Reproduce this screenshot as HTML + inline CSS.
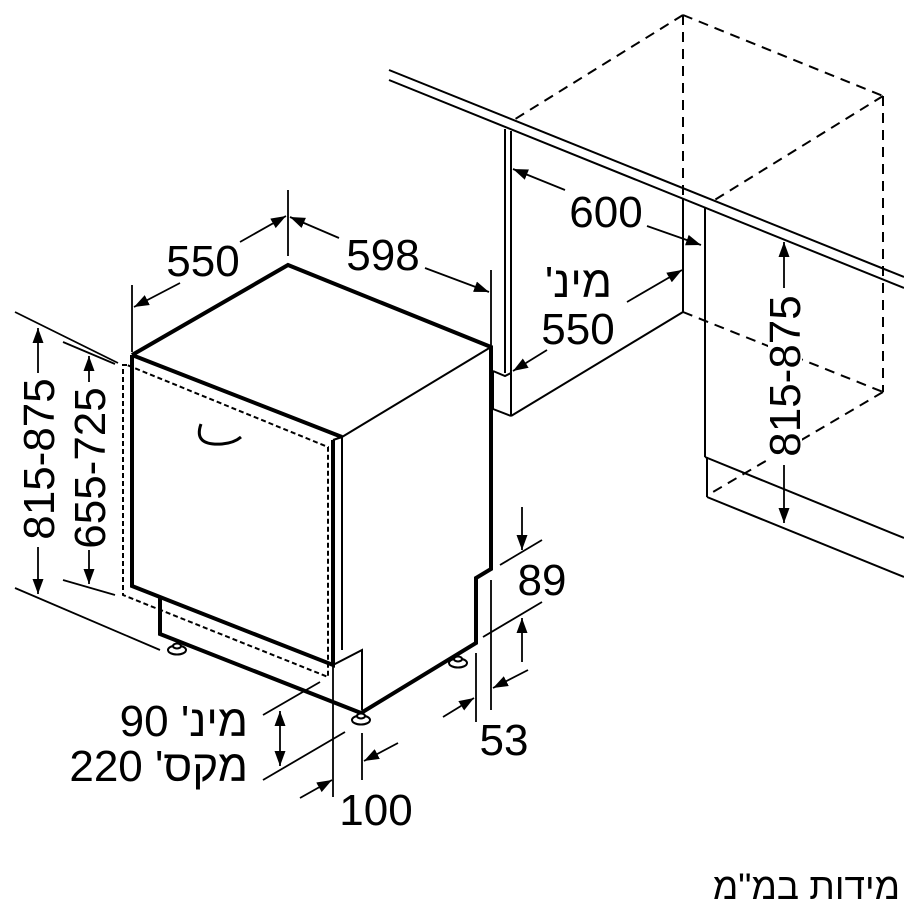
<!DOCTYPE html>
<html><head><meta charset="utf-8"><style>
html,body{margin:0;padding:0;background:#fff;}
body{width:904px;height:906px;position:relative;overflow:hidden;}
.t{position:absolute;font-family:"Liberation Sans","Noto Sans CJK JP",sans-serif;font-size:44px;line-height:44px;color:#000;white-space:nowrap;}
svg text{font-family:"Liberation Sans",sans-serif;font-size:44px;fill:#000;}
</style></head><body>
<svg width="904" height="906" viewBox="0 0 904 906" style="position:absolute;left:0;top:0">
<defs>
<marker id="a" viewBox="0 0 15 12" refX="15" refY="6" markerWidth="15" markerHeight="12" markerUnits="userSpaceOnUse" orient="auto-start-reverse"><path d="M0,0.5 L15,6 L0,11.5 z" fill="#000"/></marker>
</defs>
<g fill="none" stroke="#000" stroke-width="2">
<line x1="389" y1="70" x2="904" y2="277"/>
<line x1="389" y1="80" x2="904" y2="288"/>
<line x1="505" y1="129" x2="505" y2="373"/>
<line x1="511" y1="131" x2="511" y2="416"/>
<polyline points="493,371 505,376 511,373"/>
<line x1="493" y1="371" x2="493" y2="409"/>
<line x1="493" y1="409" x2="511" y2="416"/>
<line x1="511" y1="416" x2="683" y2="312"/>
<line x1="683" y1="199" x2="683" y2="312"/>
<line x1="705" y1="208" x2="705" y2="457"/>
<line x1="705" y1="457" x2="904" y2="538"/>
<line x1="707" y1="457" x2="707" y2="497"/>
<line x1="707" y1="497" x2="904" y2="577"/>
</g>
<g fill="none" stroke="#000" stroke-width="2" stroke-dasharray="10,7">
<line x1="683" y1="15" x2="683" y2="199"/>
<line x1="683" y1="15" x2="883" y2="96"/>
<line x1="683" y1="15" x2="512" y2="121"/>
<line x1="883" y1="96" x2="713" y2="201"/>
<line x1="883" y1="96" x2="883" y2="392"/>
<line x1="683" y1="312" x2="883" y2="392"/>
<line x1="883" y1="392" x2="713" y2="492"/>
</g>
<rect x="768" y="296" width="34" height="164" fill="#fff"/>
<g fill="none" stroke="#000" stroke-width="4" stroke-linejoin="miter">
<polyline points="132,355 288,265 491,347 491,569 476,578 476,643 361,713 160,634 160,597"/>
<polyline points="132,355 342,437"/>
<polyline points="132,355 132,586 333,665 333,440"/>
</g>
<g fill="none" stroke="#000" stroke-width="2">
<line x1="342" y1="437" x2="491" y2="347"/>
<line x1="342" y1="437" x2="342" y2="650"/>
<line x1="333" y1="440" x2="342" y2="437"/>
<polyline points="333,665 362,650 362,710"/>
<path d="M201,424 Q193,446 222,444 Q234,443 241,437" stroke-width="3"/>
</g>
<g fill="none" stroke="#000" stroke-width="2" stroke-dasharray="5,3">
<polyline points="127,365 123,365 123,595 328,677 328,447 127,365"/>
</g>
<g fill="#fff" stroke="#000" stroke-width="2">
<ellipse cx="177" cy="650" rx="9" ry="4.5"/><ellipse cx="177" cy="646" rx="4" ry="2.5"/>
<ellipse cx="361" cy="720" rx="9" ry="4.5"/><ellipse cx="361" cy="716" rx="4" ry="2.5"/>
<ellipse cx="458" cy="663" rx="9" ry="4.5"/><ellipse cx="458" cy="659" rx="4" ry="2.5"/>
</g>
<g fill="none" stroke="#000" stroke-width="1.8">
<line x1="288" y1="190" x2="288" y2="256"/>
<line x1="132" y1="285" x2="132" y2="352"/>
<line x1="491" y1="270" x2="491" y2="345"/>
<line x1="240" y1="242" x2="286" y2="216" marker-end="url(#a)"/>
<line x1="180" y1="283" x2="134" y2="307" marker-end="url(#a)"/>
<line x1="339" y1="238" x2="290" y2="217" marker-end="url(#a)"/>
<line x1="425" y1="268" x2="489" y2="292" marker-end="url(#a)"/>
<line x1="15" y1="312" x2="118" y2="363"/>
<line x1="63" y1="342" x2="115" y2="364"/>
<line x1="63" y1="580" x2="115" y2="595"/>
<line x1="15" y1="588" x2="160" y2="650"/>
<line x1="38" y1="373" x2="38" y2="328" marker-end="url(#a)"/>
<line x1="38" y1="547" x2="38" y2="594" marker-end="url(#a)"/>
<line x1="89" y1="382" x2="89" y2="356" marker-end="url(#a)"/>
<line x1="89" y1="550" x2="89" y2="584" marker-end="url(#a)"/>
<line x1="565" y1="190" x2="513" y2="169" marker-end="url(#a)"/>
<line x1="647" y1="226" x2="701" y2="245" marker-end="url(#a)"/>
<line x1="627" y1="302" x2="682" y2="270" marker-end="url(#a)"/>
<line x1="547" y1="350" x2="513" y2="371" marker-end="url(#a)"/>
<line x1="784" y1="288" x2="784" y2="242" marker-end="url(#a)"/>
<line x1="784" y1="465" x2="784" y2="523" marker-end="url(#a)"/>
<line x1="500" y1="565" x2="542" y2="540"/>
<line x1="483" y1="637" x2="542" y2="602"/>
<line x1="522" y1="507" x2="522" y2="550" marker-end="url(#a)"/>
<line x1="522" y1="662" x2="522" y2="618" marker-end="url(#a)"/>
<line x1="476" y1="653" x2="476" y2="722"/>
<line x1="491" y1="580" x2="491" y2="710"/>
<line x1="443" y1="717" x2="474" y2="698" marker-end="url(#a)"/>
<line x1="528" y1="670" x2="493" y2="688" marker-end="url(#a)"/>
<line x1="263" y1="715" x2="320" y2="682"/>
<line x1="263" y1="780" x2="345" y2="732"/>
<line x1="280" y1="711" x2="280" y2="766" marker-start="url(#a)" marker-end="url(#a)"/>
<line x1="333" y1="665" x2="333" y2="797"/>
<line x1="362" y1="733" x2="362" y2="780"/>
<line x1="300" y1="798" x2="332" y2="780" marker-end="url(#a)"/>
<line x1="398" y1="743" x2="364" y2="761" marker-end="url(#a)"/>
</g>
<g>
<text x="203" y="276" text-anchor="middle">550</text>
<text x="383" y="270" text-anchor="middle">598</text>
<text x="606" y="227" text-anchor="middle">600</text>
<text x="578" y="344" text-anchor="middle">550</text>
<text x="542" y="595" text-anchor="middle">89</text>
<text x="504" y="755" text-anchor="middle">53</text>
<text x="376" y="825" text-anchor="middle">100</text>
<text transform="translate(54,459) rotate(-90)" text-anchor="middle">815-875</text>
<text transform="translate(105,468) rotate(-90)" text-anchor="middle">655-725</text>
<text transform="translate(800,376) rotate(-90)" text-anchor="middle">815-875</text>
</g>
</svg>
<div class="t" dir="rtl" style="right:292px;top:261px;">מינ'</div>
<div class="t" dir="rtl" style="right:656px;top:700px;">מינ' 90</div>
<div class="t" dir="rtl" style="right:656px;top:745px;">מקס' 220</div>
<div class="t" dir="rtl" style="right:4px;top:868px;font-size:37px;line-height:37px;">מידות במ"מ</div>
</body></html>
